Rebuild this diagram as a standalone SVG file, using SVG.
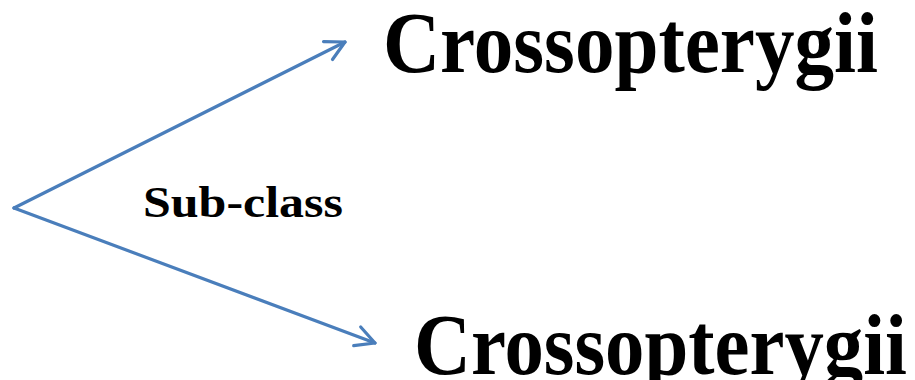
<svg xmlns="http://www.w3.org/2000/svg" width="915" height="380" viewBox="0 0 915 380">
<style>
.edge{fill:none;stroke:#4a7ebb;stroke-width:3.2;stroke-linecap:round;stroke-linejoin:round}
.big{font-family:"Liberation Serif","DejaVu Serif",serif;font-weight:bold;font-size:86px;fill:#000}
.small{font-family:"Liberation Serif","DejaVu Serif",serif;font-weight:bold;font-size:44px;fill:#000}
</style>
<defs>
<marker id="arr" markerUnits="userSpaceOnUse" viewBox="-24 -14 28 28" markerWidth="28" markerHeight="28" refX="0" refY="0" orient="auto">
<path d="M-19,-10 L0,0 L-19,10" fill="none" stroke="#4a7ebb" stroke-width="3.2" stroke-linecap="round" stroke-linejoin="round"/>
</marker>
</defs>
<rect width="915" height="380" fill="#fff"/>
<g id="connectors">
<path class="edge" d="M14,208 L345,42" marker-end="url(#arr)"/>
<path class="edge" d="M14,208 L375,343" marker-end="url(#arr)"/>
</g>
<g id="label-subclass">
<text class="small" x="143" y="217" textLength="200" lengthAdjust="spacingAndGlyphs">Sub-class</text>
</g>
<g id="node-top">
<text class="big" x="383" y="72" textLength="495" lengthAdjust="spacingAndGlyphs">Crossopterygii</text>
</g>
<g id="node-bottom">
<text class="big" x="414" y="374" textLength="493" lengthAdjust="spacingAndGlyphs">Crossopterygii</text>
</g>
</svg>
